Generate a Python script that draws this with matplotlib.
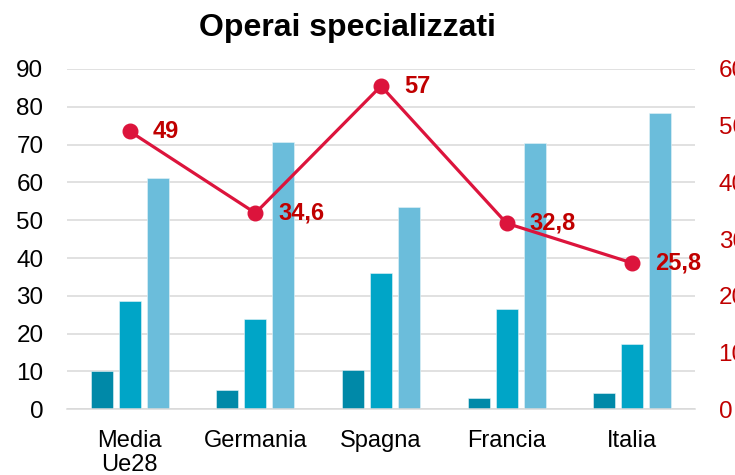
import matplotlib
matplotlib.use("Agg")
import matplotlib.pyplot as plt
import numpy as np

plt.rcParams['font.family'] = ['Liberation Sans', 'DejaVu Sans']

categories = ["Media\nUe28", "Germania", "Spagna", "Francia", "Italia"]
series1 = [10.1, 5.2, 10.4, 3.1, 4.2]
series2 = [28.6, 23.9, 36.0, 26.4, 17.2]
series3 = [61.2, 70.7, 53.4, 70.3, 78.4]
line_values = [49, 34.6, 57, 32.8, 25.8]
line_labels = ["49", "34,6", "57", "32,8", "25,8"]
left_ticks = [0, 10, 20, 30, 40, 50, 60, 70, 80, 90]
right_ticks = [0, 10, 20, 30, 40, 50, 60]

fig = plt.figure(figsize=(7.35, 4.75), dpi=100)
ax = fig.add_axes([67/735, 65.7/475, 628/735, 340.3/475])

x = np.arange(len(categories))
w = 0.175
off = 0.223
colors = ["#0089A8", "#00A5C7", "#6BBDDB"]
for i, s in enumerate([series1, series2, series3]):
    ax.bar(x + (i - 1) * off, s, width=w, color=colors[i], zorder=2,
           edgecolor="#E6F4F8", linewidth=0.4)

ax.set_xlim(-0.5, 4.5)
ax.set_ylim(0, 90)
ax.set_yticks(left_ticks)
ax.grid(axis='y', color="#D9D9D9", linewidth=1.1, zorder=0)
ax.set_axisbelow(True)
for sp in ["top", "left", "right"]:
    ax.spines[sp].set_visible(False)
ax.spines["bottom"].set_color("#D9D9D9")
ax.spines["bottom"].set_linewidth(1.1)
ax.tick_params(axis='y', length=0, pad=17, labelsize=17.5, labelcolor="#000000")
ax.tick_params(axis='x', length=0, pad=15, labelsize=17, labelcolor="#000000")
ax.set_xticks(x)
ax.set_xticklabels(categories, linespacing=1.12)

ax2 = ax.twinx()
ax2.set_ylim(0, 60)
ax2.set_yticks(right_ticks)
for sp in ["top", "left", "right", "bottom"]:
    ax2.spines[sp].set_visible(False)
ax2.tick_params(axis='y', length=0, pad=17, labelsize=17.5, labelcolor="#C00000")
ax2.plot(x, line_values, color="#DC143C", linewidth=2.3, marker='o',
         markersize=10.5, zorder=5, clip_on=False)
for xi, v, lab in zip(x, line_values, line_labels):
    ax2.annotate(lab, (xi, v), xytext=(16.5, 0), textcoords='offset points',
                 ha='left', va='center', fontsize=17, fontweight='bold',
                 color="#C00000", zorder=6)

fig.text(347/735, 1 - 28/475, "Operai specializzati", ha='center', va='center',
         fontsize=23, fontweight='bold', color="#000000")

fig.savefig("out.png", dpi=100)
